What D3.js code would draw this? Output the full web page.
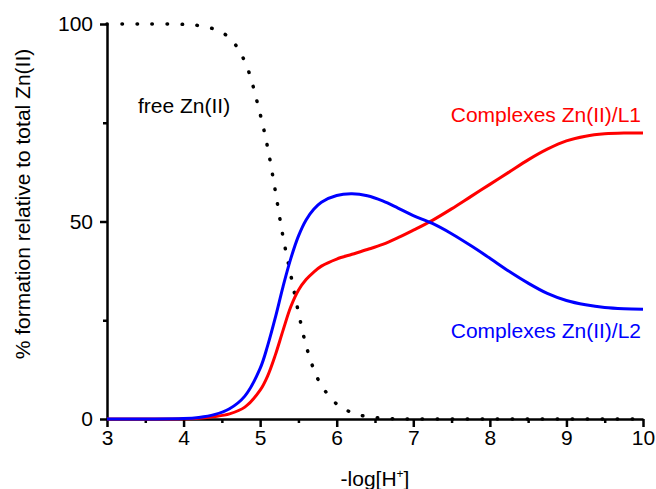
<!DOCTYPE html>
<html>
<head>
<meta charset="utf-8">
<script src="https://cdn.jsdelivr.net/npm/d3@7"></script>
<style>
  body { margin: 0; background: #fff; }
  text { font-family: "Liberation Sans", Arial, sans-serif; }
</style>
</head>
<body>
<div id="chart-area"></div>
<script>
// pH values (-log[H+]) and % formation
var ph    = [3, 3.5, 4, 4.2, 4.4, 4.6, 4.8, 5.0, 5.1, 5.2, 5.3, 5.4, 5.5, 5.6, 5.7, 5.8, 6.0, 6.2, 6.4, 6.6, 6.8, 7.0, 7.25, 7.5, 7.75, 8.0, 8.25, 8.5, 8.75, 9.0, 9.25, 9.5, 9.75, 10];
var freeZn = [100, 100, 99.9, 99.6, 98.7, 96.5, 90.5, 77.2, 68.5, 57.5, 46, 36.5, 27, 18.6, 12.6, 8.5, 3.8, 1.6, 0.6, 0.2, 0.05, 0, 0, 0, 0, 0, 0, 0, 0, 0, 0, 0, 0, 0];
var compL1 = [0, 0, 0.05, 0.2, 0.6, 1.3, 3.0, 7.3, 11, 16.3, 22.5, 28.4, 32.6, 35.3, 37.2, 38.7, 40.5, 41.7, 42.9, 44.2, 45.9, 47.8, 50.3, 53.2, 56.3, 59.4, 62.5, 65.6, 68.3, 70.4, 71.6, 72.2, 72.4, 72.4];
var compL2 = [0, 0, 0.1, 0.4, 1.1, 2.6, 5.8, 12.8, 18.7, 25.8, 33.6, 40.6, 46.3, 50.4, 53.1, 54.9, 56.6, 57, 56.5, 55.2, 53.4, 51.5, 49.5, 46.9, 43.9, 40.7, 37.4, 34.4, 31.8, 30, 28.9, 28.2, 27.9, 27.8];

var xMajor = [3, 4, 5, 6, 7, 8, 9, 10];
var xMinor = [3.5, 4.5, 5.5, 6.5, 7.5, 8.5, 9.5];
var yMajor = [0, 50, 100];
var yMinor = [25, 75];

var svg = d3.select("#chart-area")
            .append("svg")
              .attr("width", 656)
              .attr("height", 489);

var x = d3.scaleLinear().domain([3, 10]).range([107, 643]);
var y = d3.scaleLinear().domain([0, 100]).range([419, 24]);

// minor ticks first, then major axes on top
svg.append("g")
    .attr("transform", "translate(0,419)")
    .call(d3.axisBottom(x).tickValues(xMinor).tickSize(4).tickFormat(""))
    .call(function(g) { g.select(".domain").remove(); });

svg.append("g")
    .attr("transform", "translate(107,0)")
    .call(d3.axisLeft(y).tickValues(yMinor).tickSize(4).tickFormat(""))
    .call(function(g) { g.select(".domain").remove(); });

var xAxis = svg.append("g")
    .attr("transform", "translate(0,419)")
    .call(d3.axisBottom(x).tickValues(xMajor).tickFormat(d3.format("d"))
            .tickSize(8).tickSizeOuter(0).tickPadding(3));
xAxis.selectAll("text").attr("font-size", "21px").attr("fill", "#000");

var yAxis = svg.append("g")
    .attr("transform", "translate(107,0)")
    .call(d3.axisLeft(y).tickValues(yMajor).tickFormat(d3.format("d"))
            .tickSize(7).tickSizeOuter(0).tickPadding(7));
yAxis.selectAll("text").attr("font-size", "21px").attr("fill", "#000");

svg.selectAll(".domain, .tick line")
    .attr("stroke", "#000")
    .attr("stroke-width", 2.5);

// curves
var line = function(vals) {
  return d3.line()
    .x(function(d, i) { return x(ph[i]); })
    .y(function(d) { return y(d); })
    .curve(d3.curveCatmullRom.alpha(0.5))(vals);
};

svg.append("path")
    .attr("d", line(freeZn))
    .attr("fill", "none")
    .attr("stroke", "#000")
    .attr("stroke-width", 3.5)
    .attr("stroke-linecap", "round")
    .attr("stroke-dasharray", "0.5 14.5");

svg.append("path")
    .attr("d", line(compL1))
    .attr("fill", "none")
    .attr("stroke", "#ff0000")
    .attr("stroke-width", 3);

svg.append("path")
    .attr("d", line(compL2))
    .attr("fill", "none")
    .attr("stroke", "#0000ff")
    .attr("stroke-width", 3);

// annotations
svg.append("text")
    .attr("x", 138).attr("y", 113)
    .attr("font-size", "21px")
    .text("free Zn(II)");

svg.append("text")
    .attr("x", 641).attr("y", 122)
    .attr("text-anchor", "end")
    .attr("font-size", "21px")
    .attr("fill", "#ff0000")
    .text("Complexes Zn(II)/L1");

svg.append("text")
    .attr("x", 641).attr("y", 338)
    .attr("text-anchor", "end")
    .attr("font-size", "21px")
    .attr("fill", "#0000ff")
    .text("Complexes Zn(II)/L2");

// axis labels
var xl = svg.append("text")
    .attr("x", 375).attr("y", 486)
    .attr("text-anchor", "middle")
    .attr("font-size", "21px");
xl.append("tspan").text("-log[H");
xl.append("tspan").attr("font-size", "12px").attr("dy", "-8").text("+");
xl.append("tspan").attr("dy", "8").text("]");

svg.append("text")
    .attr("transform", "translate(30,204) rotate(-90)")
    .attr("text-anchor", "middle")
    .attr("font-size", "21px")
    .text("% formation relative to total Zn(II)");
</script>
</body>
</html>
